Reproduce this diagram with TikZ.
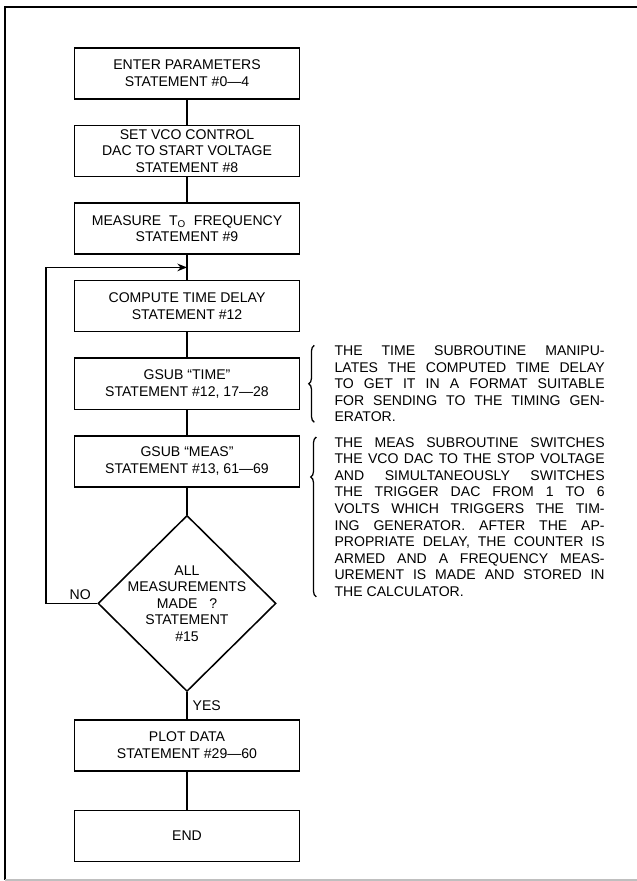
\documentclass[tikz,border=0pt]{standalone}
\usepackage{fontspec}
\setmainfont{Liberation Sans}
\usetikzlibrary{
    positioning,
    calc,
    shapes.geometric,
    arrows.meta,
    decorations.pathreplacing
}
\tolerance=10000
\hyphenpenalty=10000
\tikzset{%
    process/.style={%
        rectangle,
        draw,
        line width=1.1pt,
        inner sep = 0pt,
        minimum width=5.625cm,
        minimum height=1.275cm,
        align=center,
        font=\fontsize{10}{12}\selectfont
    },
    decision/.style={%
        diamond,
        draw,
        line width=1.1pt,
        inner sep = 0pt,
        minimum width=4.45cm,
        minimum height=4.4cm
    },
    decision text/.style={%
        align=center,
        inner sep = 0pt,
        font=\fontsize{10}{11.7}\selectfont
    },
    note/.style={%
        text width=6.75cm,
        align=justify,
        inner sep = 0pt,
        font=\fontsize{10}{11.8}\selectfont
    },
    tag/.style={%
        inner sep = 1pt,
        font=\fontsize{10}{12}\selectfont
    },
    line/.style={%
        line width=1.1pt
    },
    arrow/.style={%
        line width=1.1pt,
        >={Stealth[length=2.4mm, width=1.9mm]}
    },
    brace/.style={%
        decorate,
        decoration={brace, amplitude=4pt},
        line width=0.9pt
    },
    frame/.style={%
        line width=1pt
    }
}

\begin{document}
\begin{tikzpicture}[x=0.025cm, y=-0.025cm]
    \useasboundingbox (0,0) rectangle (637,881);
    \draw[frame] (637,7) -- (5,7) -- (5,880);
    \draw[frame, black!25] (5,880) -- (637,880);

    \node[process] (enter) at (187,73.5) {ENTER PARAMETERS\\STATEMENT \#0---4};
    \node[process, below=0.625cm of enter] (setvco) {SET VCO CONTROL\\DAC TO START VOLTAGE\\STATEMENT \#8};
    \node[process, below=0.625cm of setvco] (measure) {MEASURE\ \ T\textsubscript{O}\ \ FREQUENCY\\STATEMENT \#9};
    \node[process, below=0.625cm of measure] (compute) {COMPUTE TIME DELAY\\STATEMENT \#12};
    \node[process, below=0.625cm of compute] (time) {GSUB ``TIME''\\STATEMENT \#12, 17---28};
    \node[process, below=0.625cm of time] (meas) {GSUB ``MEAS''\\STATEMENT \#13, 61---69};
    \node[decision, below=0.675cm of meas,
        label={[decision text]center:ALL\\MEASUREMENTS\\MADE\ \ \ ?\\STATEMENT\\\#15}] (check) {};
    \node[process, below=0.675cm of check] (plot) {PLOT DATA\\STATEMENT \#29---60};
    \node[process, below=0.95cm of plot] (end) {END};

    \coordinate (loop) at ($(measure.south)!0.5!(compute.north)$);

    \draw[line] (enter) -- (setvco);
    \draw[line] (setvco) -- (measure);
    \draw[line] (measure) -- (compute);
    \draw[line] (compute) -- (time);
    \draw[line] (time) -- (meas);
    \draw[line] (meas) -- (check);
    \draw[line] (check) -- (plot);
    \draw[line] (plot) -- (end);
    \draw[arrow, ->] (check.west) -- ++(-51,0) |- (loop);

    \node[tag, above left=0.05cm and 0.12cm of check.west] (no) {NO};
    \node[tag, anchor=west] (yes) at ([xshift=0.1cm]$(check.south)!0.5!(plot.north)$) {YES};

    \node[note, right=0.85cm of time] (timenote) {THE TIME SUBROUTINE MANIPU-\linebreak
        LATES THE COMPUTED TIME DELAY\linebreak
        TO GET IT IN A FORMAT SUITABLE\linebreak
        FOR SENDING TO THE TIMING GEN-\linebreak
        ERATOR.};
    \node[note, anchor=north west] (measnote) at ([xshift=0.85cm, yshift=-0.05cm]meas.north east) {THE MEAS SUBROUTINE SWITCHES\linebreak
        THE VCO DAC TO THE STOP VOLTAGE\linebreak
        AND SIMULTANEOUSLY SWITCHES\linebreak
        THE TRIGGER DAC FROM 1 TO 6\linebreak
        VOLTS WHICH TRIGGERS THE TIM-\linebreak
        ING GENERATOR. AFTER THE AP-\linebreak
        PROPRIATE DELAY, THE COUNTER IS\linebreak
        ARMED AND A FREQUENCY MEAS-\linebreak
        UREMENT IS MADE AND STORED IN\linebreak
        THE CALCULATOR.};

    \draw[brace] ([xshift=-0.5cm]timenote.south west) -- ([xshift=-0.5cm]timenote.north west);
    \draw[brace, decoration={aspect=0.75}] ([xshift=-0.45cm]measnote.south west) -- ([xshift=-0.45cm]measnote.north west);
\end{tikzpicture}
\end{document}
